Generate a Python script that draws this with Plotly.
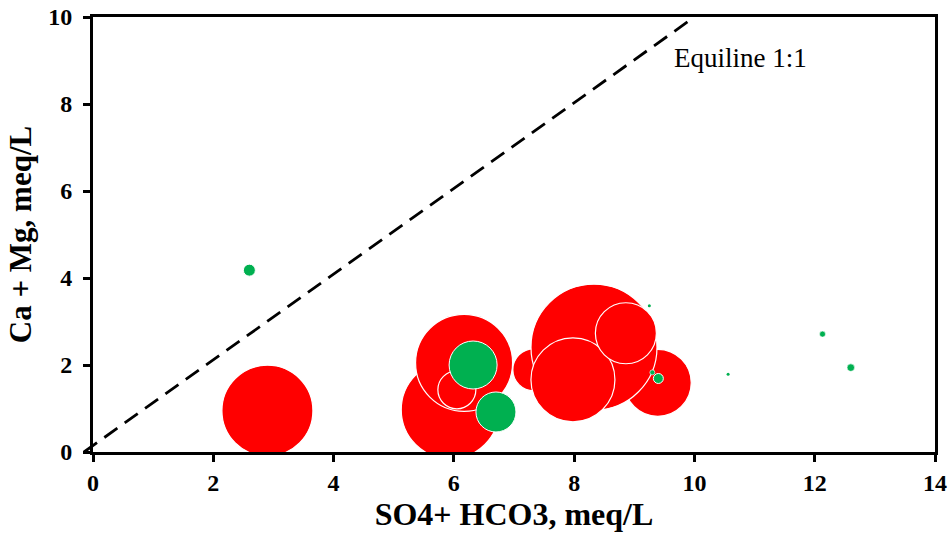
import plotly.graph_objects as go

# Red group (drawn in this order)
red_x = [9.39, 7.33, 5.94, 8.33, 6.17, 7.98, 8.86, 6.05, 2.90]
red_y = [1.59, 1.89, 0.97, 2.41, 2.05, 1.66, 2.73, 1.43, 0.95]
red_size = [67, 42, 98, 126, 97, 84, 61, 38, 91]

# Green group
green_x = [2.60, 6.32, 6.70, 9.30, 9.40, 9.25, 10.56, 12.13, 12.60]
green_y = [4.18, 2.00, 0.92, 1.83, 1.69, 3.36, 1.79, 2.71, 1.94]
green_size = [12, 48, 40, 5, 10, 3, 3, 6, 7.5]

# 1:1 equiline
eq_x = [-0.15, 10.0]
eq_y = [0.0, 10.0]

x_range = [0, 14]
y_range = [0, 10]
x_ticks = [0, 2, 4, 6, 8, 10, 12, 14]
y_ticks = [0, 2, 4, 6, 8, 10]

FONT = "Liberation Serif"

fig = go.Figure()

fig.add_trace(go.Scatter(
    x=red_x, y=red_y, mode="markers",
    marker=dict(size=red_size, sizemode="diameter", color="#FF0000",
                line=dict(color="white", width=1.2), opacity=1),
    showlegend=False, cliponaxis=True, hoverinfo="x+y"))

green_line_w = [1.0 if s >= 9 else (0.6 if s >= 5 else 0) for s in green_size]
fig.add_trace(go.Scatter(
    x=green_x, y=green_y, mode="markers",
    marker=dict(size=green_size, sizemode="diameter", color="#00B050",
                line=dict(color="white", width=green_line_w), opacity=1),
    showlegend=False, cliponaxis=True, hoverinfo="x+y"))

def px_(v):
    return (v - x_range[0]) / (x_range[1] - x_range[0])

def py_(v):
    return (v - y_range[0]) / (y_range[1] - y_range[0])

fig.add_shape(type="line", xref="paper", yref="paper",
              x0=px_(eq_x[0]), y0=py_(eq_y[0]), x1=px_(eq_x[1]), y1=py_(eq_y[1]),
              line=dict(color="black", width=2.8, dash="16px,9px"))

fig.add_annotation(x=9.62, y=9.06, xref="x", yref="y", text="Equiline 1:1",
                   showarrow=False, xanchor="left", yanchor="middle",
                   font=dict(family=FONT, size=27, color="black"))

axis_common = dict(
    showgrid=False, zeroline=False, showline=True, linecolor="black",
    linewidth=3, mirror=True, ticks="outside", ticklen=7, tickwidth=2.5,
    tickcolor="black", automargin=False,
    tickfont=dict(family=FONT, size=24, color="black"),
)

fig.update_xaxes(range=x_range, tickvals=x_ticks,
                 ticktext=["<b>%d</b>" % t for t in x_ticks],
                 title=dict(text="<b>SO4+ HCO3, meq/L</b>",
                            font=dict(family=FONT, size=32, color="black"),
                            standoff=8),
                 **axis_common)
fig.update_yaxes(range=y_range, tickvals=y_ticks,
                 ticktext=["<b>%d</b>" % t for t in y_ticks],
                 ticklabelstandoff=6,
                 title=dict(text="<b>Ca + Mg, meq/L</b>",
                            font=dict(family=FONT, size=31, color="black"),
                            standoff=8),
                 **axis_common)

fig.update_layout(
    width=951, height=542,
    margin=dict(l=93, r=16, t=17, b=90),
    plot_bgcolor="white", paper_bgcolor="white",
)

fig.write_html("out.html", config={"displayModeBar": False},
               post_script="document.body.style.margin='0';")
